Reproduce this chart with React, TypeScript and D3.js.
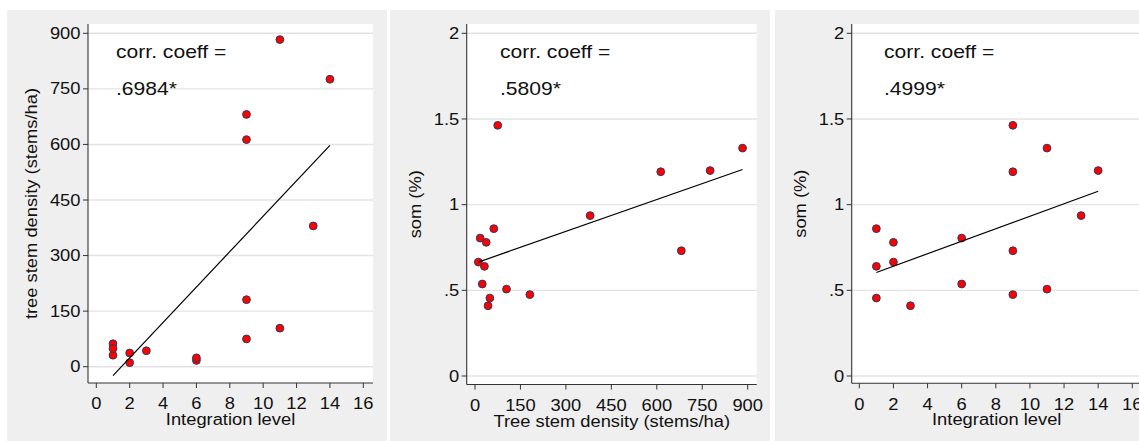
import * as d3 from "d3";

// one row per site: integration level, tree stem density (stems/ha), soil organic matter (%)
const integration = [1, 1, 1, 2, 2, 3, 6, 6, 9, 9, 9, 9, 11, 11, 13, 14];
const stemDensity = [62, 31, 49, 37, 11, 43, 17, 24, 75, 613, 681, 181, 883, 104, 380, 776];
const som = [0.86, 0.64, 0.455, 0.78, 0.665, 0.41, 0.805, 0.537, 1.463, 1.192, 0.731, 0.475, 1.33, 0.507, 0.936, 1.199];

const integrationTicks = [0, 2, 4, 6, 8, 10, 12, 14, 16];
const stemTicks = [0, 150, 300, 450, 600, 750, 900];
const somTicks = [0, 0.5, 1, 1.5, 2];

const corrPrefix = "corr. coeff =";
const corrLabels = [".6984*", ".5809*", ".4999*"];

// Stata-ish glyphs are wider than Liberation Sans, stretch them a bit
const SX = 1.16;
const FONT = "'Liberation Sans', Arial, Helvetica, sans-serif";

const fmt = (v: number) => String(v).replace(/^0\./, ".");

function ols(xs: number[], ys: number[]) {
  const mx = d3.mean(xs)!;
  const my = d3.mean(ys)!;
  const sxy = d3.sum(xs, (x, i) => (x - mx) * (ys[i] - my));
  const sxx = d3.sum(xs, (x) => (x - mx) ** 2);
  const b = sxy / sxx;
  return { a: my - b * mx, b };
}

function Txt({
  x,
  y,
  size,
  anchor = "start",
  rotate = 0,
  children,
}: {
  x: number;
  y: number;
  size: number;
  anchor?: string;
  rotate?: number;
  children: React.ReactNode;
}) {
  return (
    <text
      transform={`translate(${x},${y}) rotate(${rotate}) scale(${SX},1)`}
      fontSize={size}
      textAnchor={anchor}
      fill="#111"
    >
      {children}
    </text>
  );
}

type Panel = {
  xs: number[];
  ys: number[];
  xTicks: number[];
  yTicks: number[];
  xTitle: string;
  yTitle: string;
  corr: string;
  bg: [number, number];
  left: number;
  right: number;
  bottom: number;
  xDom: [number, number];
  xRange: [number, number];
  yDom: [number, number];
  yRange: [number, number];
  yTitleX: number;
  noteX: number;
};

const TOP = 24;

const panels: Panel[] = [
  {
    xs: integration,
    ys: stemDensity,
    xTicks: integrationTicks,
    yTicks: stemTicks,
    xTitle: "Integration level",
    yTitle: "tree stem density (stems/ha)",
    corr: corrLabels[0],
    bg: [7, 387],
    left: 88,
    right: 373,
    bottom: 383,
    xDom: [0, 16],
    xRange: [96.3, 363.3],
    yDom: [0, 900],
    yRange: [366.7, 33.3],
    yTitleX: 37,
    noteX: 116,
  },
  {
    xs: stemDensity,
    ys: som,
    xTicks: stemTicks,
    yTicks: somTicks,
    xTitle: "Tree stem density (stems/ha)",
    yTitle: "som (%)",
    corr: corrLabels[1],
    bg: [390, 770],
    left: 466.7,
    right: 756.7,
    bottom: 384.5,
    xDom: [0, 900],
    xRange: [475, 747.7],
    yDom: [0, 2],
    yRange: [376, 33.3],
    yTitleX: 421,
    noteX: 500,
  },
  {
    xs: integration,
    ys: som,
    xTicks: integrationTicks,
    yTicks: somTicks,
    xTitle: "Integration level",
    yTitle: "som (%)",
    corr: corrLabels[2],
    bg: [775, 1160],
    left: 851.7,
    right: 1141.7,
    bottom: 383.3,
    xDom: [0, 16],
    xRange: [859.3, 1132.3],
    yDom: [0, 2],
    yRange: [376, 33.3],
    yTitleX: 806,
    noteX: 884,
  },
];

function ScatterPanel({ p }: { p: Panel }) {
  const x = d3.scaleLinear().domain(p.xDom).range(p.xRange);
  const y = d3.scaleLinear().domain(p.yDom).range(p.yRange);
  const { a, b } = ols(p.xs, p.ys);
  const [x0, x1] = d3.extent(p.xs) as [number, number];
  const fit = d3.line<number>()
    .x((v) => x(v))
    .y((v) => y(a + b * v))([x0, x1]);
  const midX = (p.left + p.right) / 2;
  const midY = (TOP + p.bottom) / 2;

  return (
    <g>
      <rect x={p.bg[0]} y={10} width={p.bg[1] - p.bg[0]} height={431} fill="#efefef" />
      <rect x={p.left} y={TOP} width={p.right - p.left} height={p.bottom - TOP} fill="#fff" />

      {/* grid */}
      {p.yTicks.map((t) => (
        <line key={t} x1={p.left} x2={p.right} y1={y(t)} y2={y(t)} stroke="#e3e3e3" strokeWidth={1.4} />
      ))}

      {/* axes */}
      <line x1={p.left} x2={p.left} y1={TOP} y2={p.bottom} stroke="#333" strokeWidth={1.1} />
      <line x1={p.left} x2={p.right} y1={p.bottom} y2={p.bottom} stroke="#333" strokeWidth={1.1} />
      {p.yTicks.map((t) => (
        <g key={t}>
          <line x1={p.left - 5} x2={p.left} y1={y(t)} y2={y(t)} stroke="#333" strokeWidth={1} />
          <Txt x={p.left - 7.5} y={y(t) + 5.6} size={15.8} anchor="end">
            {fmt(t)}
          </Txt>
        </g>
      ))}
      {p.xTicks.map((t) => (
        <g key={t}>
          <line x1={x(t)} x2={x(t)} y1={p.bottom} y2={p.bottom + 5} stroke="#333" strokeWidth={1} />
          <Txt x={x(t)} y={p.bottom + 26.3} size={15.8} anchor="middle">
            {fmt(t)}
          </Txt>
        </g>
      ))}
      <Txt x={midX} y={p.bottom + 42} size={15.8} anchor="middle">
        {p.xTitle}
      </Txt>
      <Txt x={p.yTitleX} y={midY} size={15.8} anchor="middle" rotate={-90}>
        {p.yTitle}
      </Txt>

      {/* points */}
      {p.xs.map((v, i) => (
        <circle key={i} cx={x(v)} cy={y(p.ys[i])} r={3.9} fill="#ff0000" stroke="#2e3a5e" strokeWidth={1} />
      ))}

      {/* linear fit */}
      <path d={fit!} fill="none" stroke="#000" strokeWidth={1.2} />

      <Txt x={p.noteX} y={58.3} size={18.2}>
        {corrPrefix}
      </Txt>
      <Txt x={p.noteX} y={95} size={18.2}>
        {p.corr}
      </Txt>
    </g>
  );
}

export default function App() {
  return (
    <svg
      width={1139}
      height={441}
      style={{ position: "absolute", left: 0, top: 0, background: "#fff" }}
      fontFamily={FONT}
    >
      {panels.map((p, i) => (
        <ScatterPanel key={i} p={p} />
      ))}
    </svg>
  );
}
